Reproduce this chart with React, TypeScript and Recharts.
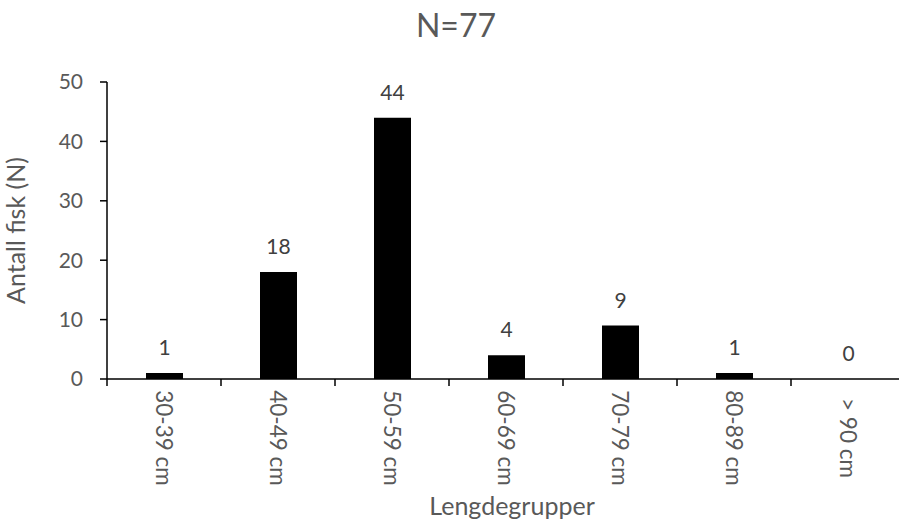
import React from "react";
import { BarChart, Bar, XAxis, YAxis, LabelList, Label } from "recharts";

const categories = ["30-39 cm", "40-49 cm", "50-59 cm", "60-69 cm", "70-79 cm", "80-89 cm", "> 90 cm"];
const counts = [1, 18, 44, 4, 9, 1, 0];
const yTicks = [0, 10, 20, 30, 40, 50];
const titleText = "N=77";
const yTitle = "Antall fisk (N)";
const xTitle = "Lengdegrupper";

const data = categories.map((c, i) => ({ name: c, value: counts[i] }));

const FONT = "Lato, 'Open Sans', sans-serif";
const AXIS_TEXT = "#595959";
const CHART_W = 912;
const CHART_H = 523;
const MARGIN = { top: 82, right: 7, bottom: 0, left: 0 };
const Y_AXIS_W = 107;
const PLOT_W = CHART_W - MARGIN.left - MARGIN.right - Y_AXIS_W;
const BAND = PLOT_W / categories.length;

const XTick = (props: any) => {
  const { x, y, payload } = props;
  return (
    <g>
      <line x1={x - BAND / 2} x2={x - BAND / 2} y1={y} y2={y + 7} stroke="#000" strokeWidth={1.5} />
      <text
        transform={`translate(${x},${y + 59}) rotate(90)`}
        textAnchor="middle"
        dy="0.36em"
        fill={AXIS_TEXT}
        fontSize={22.5}
        fontFamily={FONT}
      >
        {payload.value}
      </text>
    </g>
  );
};

const ValueLabel = (props: any) => {
  const { x, y, width, value } = props;
  return (
    <text
      x={x + width / 2}
      y={y - 18}
      textAnchor="middle"
      fill="#404040"
      fontSize={21}
      fontFamily={FONT}
    >
      {value}
    </text>
  );
};

export default function App() {
  return (
    <div style={{ position: "absolute", left: 0, top: 0, width: 899, height: 523, overflow: "hidden", background: "#fff" }}>
      <BarChart width={CHART_W} height={CHART_H} data={data} margin={MARGIN}>
        <XAxis
          dataKey="name"
          height={CHART_H - 379}
          interval={0}
          tickLine={false}
          tickSize={0}
          tickMargin={0}
          axisLine={{ stroke: "#000", strokeWidth: 1.5 }}
          tick={<XTick />}
        >
          <Label
            content={(p: any) => {
              const vb = p.viewBox;
              return (
                <text
                  x={vb.x + vb.width / 2 + 6}
                  y={vb.y + 136}
                  textAnchor="middle"
                  fill={AXIS_TEXT}
                  fontSize={25}
                  fontFamily={FONT}
                >
                  {xTitle}
                </text>
              );
            }}
          />
        </XAxis>
        <YAxis
          width={Y_AXIS_W}
          domain={[0, 50]}
          ticks={yTicks}
          interval={0}
          tickSize={7}
          tickMargin={17}
          axisLine={{ stroke: "#000", strokeWidth: 1.5 }}
          tickLine={{ stroke: "#000", strokeWidth: 1.5 }}
          tick={{ fill: AXIS_TEXT, fontSize: 21, fontFamily: FONT }}
        >
          <Label
            content={(p: any) => {
              const vb = p.viewBox;
              const cx = vb.x + 16;
              const cy = vb.y + vb.height / 2;
              return (
                <text
                  transform={`translate(${cx},${cy}) rotate(-90)`}
                  textAnchor="middle"
                  dy="0.36em"
                  fill={AXIS_TEXT}
                  fontSize={25}
                  fontFamily={FONT}
                >
                  {yTitle}
                </text>
              );
            }}
          />
        </YAxis>
        <Bar dataKey="value" fill="#000" barSize={37} minPointSize={0.01} isAnimationActive={false}>
          <LabelList dataKey="value" content={<ValueLabel />} />
        </Bar>
      </BarChart>
      <svg width={899} height={60} style={{ position: "absolute", left: 0, top: 0 }}>
        <text x={456} y={37} textAnchor="middle" fill={AXIS_TEXT} fontSize={32} fontFamily={FONT}>
          {titleText}
        </text>
      </svg>
    </div>
  );
}
